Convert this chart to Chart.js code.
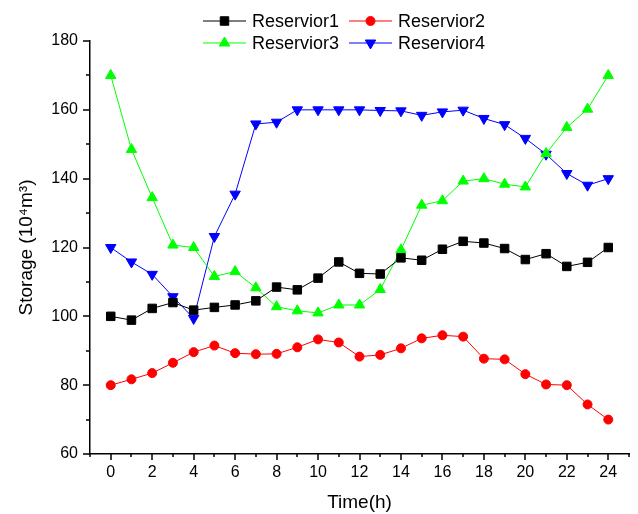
<!DOCTYPE html>
<html>
<head>
<meta charset="utf-8">
<script src="https://cdn.jsdelivr.net/npm/chart.js@4/dist/chart.umd.min.js"></script>
<style>
    html, body { margin: 0; padding: 0; background: #fff; }
    canvas { display: block; }
</style>
</head>
<body>
<canvas id="grafico" width="638" height="514"></canvas>
<script>
// Datos
const horas = [0, 1, 2, 3, 4, 5, 6, 7, 8, 9, 10, 11, 12, 13, 14, 15, 16, 17, 18, 19, 20, 21, 22, 23, 24];
const nombresSeries = ["Reservior1", "Reservior2", "Reservior3", "Reservior4"];

const reservorio1 = [100, 98.9, 102.3, 104, 101.8, 102.6, 103.3, 104.5, 108.5, 107.7, 111.1, 115.8, 112.5,
                     112.3, 117, 116.3, 119.5, 121.8, 121.3, 119.7, 116.5, 118.2, 114.5, 115.7, 120];
const reservorio2 = [80, 81.7, 83.5, 86.5, 89.6, 91.5, 89.3, 89, 89.1, 91, 93.3, 92.4, 88.3,
                     88.8, 90.7, 93.6, 94.5, 94.1, 87.7, 87.5, 83.2, 80.2, 80, 74.4, 70];
const reservorio3 = [170, 148.5, 134.5, 120.7, 120, 111.6, 113, 108.3, 102.8, 101.6, 101, 103.3, 103.3,
                     107.8, 119.3, 132.3, 133.6, 139.3, 140, 138.4, 137.6, 147.3, 154.9, 160.2, 170];
const reservorio4 = [120, 115.8, 112.2, 105.7, 99.4, 123.2, 135.5, 155.9, 156.4, 160, 160, 160, 160,
                     159.8, 159.7, 158.4, 159.4, 159.9, 157.5, 155.7, 151.7, 147.1, 141.5, 138.1, 140];

const ticksX = [0, 2, 4, 6, 8, 10, 12, 14, 16, 18, 20, 22, 24];
const ticksY = [60, 80, 100, 120, 140, 160, 180];

const FUENTE = "'Liberation Sans', Arial, Helvetica, sans-serif";

// Estilo de cada serie: color, marcador, tamaño, rotación
const estilos = [
    { color: "#000000", marcador: "rect", radio: 6, rotacion: 0 },
    { color: "#ff0000", marcador: "circle", radio: 4.5, rotacion: 0 },
    { color: "#00ff00", marcador: "triangle", radio: 6, rotacion: 0 },
    { color: "#0000ff", marcador: "triangle", radio: 6, rotacion: 180 }
];

function armarSerie(nombre, valores, estilo) {
    return {
        label: nombre,
        data: valores.map((v, i) => ({ x: horas[i], y: v })),
        borderColor: estilo.color,
        backgroundColor: estilo.color,
        borderWidth: 1,
        tension: 0,
        pointStyle: estilo.marcador,
        pointRotation: estilo.rotacion,
        pointRadius: estilo.radio,
        pointHoverRadius: estilo.radio,
        pointBorderWidth: 1,
        pointBorderColor: estilo.color,
        pointBackgroundColor: estilo.color,
        clip: false
    };
}

// Leyenda en dos filas, con línea + marcador como en Origin
const leyendaOrigin = {
    id: "leyendaOrigin",
    afterDraw(chart) {
        const ctx = chart.ctx;
        const columnas = [203, 349];
        const filas = [21, 43];

        ctx.save();
        chart.data.datasets.forEach((ds, i) => {
            const x0 = columnas[i % 2];
            const y = filas[Math.floor(i / 2)];

            ctx.strokeStyle = ds.borderColor;
            ctx.lineWidth = 1;
            ctx.beginPath();
            ctx.moveTo(x0, y);
            ctx.lineTo(x0 + 43, y);
            ctx.stroke();

            ctx.fillStyle = ds.pointBackgroundColor;
            ctx.strokeStyle = ds.pointBorderColor;
            Chart.helpers.drawPoint(ctx, {
                pointStyle: ds.pointStyle,
                rotation: ds.pointRotation,
                radius: ds.pointRadius,
                borderWidth: 1
            }, x0 + 21.5, y);

            ctx.fillStyle = "#000";
            ctx.font = "18px " + FUENTE;
            ctx.textAlign = "left";
            ctx.textBaseline = "middle";
            ctx.fillText(ds.label, x0 + 49, y + 1);
        });
        ctx.restore();
    }
};

// Marcas de los ejes: mayores en las etiquetas, menores en el resto
const marcasEjes = {
    id: "marcasEjes",
    afterDraw(chart) {
        const ctx = chart.ctx;
        const area = chart.chartArea;
        const ejeX = chart.scales.x;
        const ejeY = chart.scales.y;

        ctx.save();
        ctx.strokeStyle = "#000";
        ctx.lineWidth = 1.5;
        ctx.beginPath();
        ejeX.ticks.forEach(t => {
            const px = Math.round(ejeX.getPixelForValue(t.value));
            const largo = ticksX.includes(t.value) ? 6 : 3;
            ctx.moveTo(px, area.bottom);
            ctx.lineTo(px, area.bottom + largo);
        });
        ejeY.ticks.forEach(t => {
            const py = Math.round(ejeY.getPixelForValue(t.value));
            const largo = ticksY.includes(t.value) ? 7 : 4;
            ctx.moveTo(area.left, py);
            ctx.lineTo(area.left - largo, py);
        });
        ctx.stroke();
        ctx.restore();
    }
};

const series = [reservorio1, reservorio2, reservorio3, reservorio4];

const config = {
    type: "line",
    data: {
        datasets: series.map((valores, i) => armarSerie(nombresSeries[i], valores, estilos[i]))
    },
    options: {
        responsive: false,
        animation: false,
        devicePixelRatio: 1,
        layout: { padding: { top: 41, right: 6, left: 0, bottom: 0 } },
        plugins: {
            legend: { display: false },
            tooltip: { enabled: false }
        },
        scales: {
            x: {
                type: "linear",
                min: -1,
                max: 25,
                grid: { display: false, drawTicks: false, tickLength: 0 },
                border: { display: true, color: "#000", width: 1.5 },
                ticks: {
                    stepSize: 1,
                    autoSkip: false,
                    maxRotation: 0,
                    padding: 9,
                    color: "#000",
                    font: { family: FUENTE, size: 16 },
                    callback: v => ticksX.includes(v) ? String(v) : ""
                },
                title: {
                    display: true,
                    text: "Time(h)",
                    color: "#000",
                    font: { family: FUENTE, size: 19 },
                    padding: { top: 0, bottom: 0 }
                },
                afterFit(escala) { escala.height = 60; }
            },
            y: {
                min: 60,
                max: 180,
                grid: { display: false, drawTicks: false, tickLength: 0 },
                border: { display: true, color: "#000", width: 1.5 },
                ticks: {
                    stepSize: 10,
                    autoSkip: false,
                    padding: 12,
                    color: "#000",
                    font: { family: FUENTE, size: 16 },
                    callback: v => ticksY.includes(v) ? String(v) : ""
                },
                title: {
                    display: true,
                    text: "Storage (10⁴m³)",
                    color: "#000",
                    font: { family: FUENTE, size: 19 },
                    padding: { top: 15, bottom: 0 }
                },
                afterFit(escala) { escala.width = 90; }
            }
        }
    },
    plugins: [marcasEjes, leyendaOrigin]
};

new Chart(document.getElementById("grafico"), config);
</script>
</body>
</html>
